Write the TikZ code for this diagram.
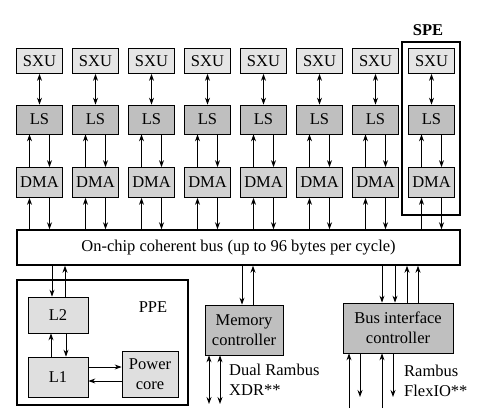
\documentclass[tikz,border=0pt]{standalone}
\usepackage{fontspec}
\setmainfont{Liberation Serif}
\usetikzlibrary{arrows.meta}

\begin{document}
\begin{tikzpicture}[x=1pt, y=-1pt, >={Stealth[length=7pt,width=5pt]},
  font=\fontsize{16.5}{20}\selectfont,
  unit/.style={draw, line width=0.7pt, inner sep=0pt, minimum width=46pt},
  link/.style={line width=0.9pt}]
  \useasboundingbox (0,0) rectangle (487,410);
  % eight SPEs
  \foreach \i in {1,...,8} {
    \pgfmathsetmacro{\cx}{39.5+56*(\i-1)}
    \node[unit, fill=gray!20, minimum height=25pt] (sxu\i) at (\cx,61) {SXU};
    \node[unit, fill=gray!50, minimum height=29pt] (ls\i) at (\cx,119.5) {LS};
    \node[unit, fill=gray!35, minimum height=30pt] (dma\i) at (\cx,182.5) {DMA};
    \draw[link, <->] (sxu\i) -- (ls\i);
    \draw[link, ->] ([xshift=-10pt]dma\i.north) -- ([xshift=-10pt]ls\i.south);
    \draw[link, ->] ([xshift=10pt]ls\i.south) -- ([xshift=10pt]dma\i.north);
  }
  \node[draw, line width=1.5pt, minimum width=58pt, minimum height=173pt]
    (spe) at (431,128.5) {};
  \node[font=\fontsize{16.5}{20}\selectfont\bfseries] (spelbl) at (428,30) {SPE};

  % bus
  \node[draw, line width=1.4pt, minimum width=443pt, minimum height=35pt]
    (bus) at (238.5,247.5) {On-chip coherent bus (up to 96 bytes per cycle)};
  \foreach \i in {1,...,8} {
    \draw[link, ->] ([xshift=-10pt]bus.north -| dma\i) -- ([xshift=-10pt]dma\i.south);
    \draw[link, ->] ([xshift=10pt]dma\i.south) -- ([xshift=10pt]bus.north -| dma\i);
  }

  % PPE
  \node[draw, line width=1.8pt, minimum width=171pt, minimum height=125pt]
    (ppe) at (102.5,342.5) {};
  \node (ppelbl) at (153,307) {PPE};
  \node[unit, fill=gray!25, minimum width=60pt, minimum height=36pt] (l2) at (58,315) {L2};
  \node[unit, fill=gray!25, minimum width=60pt, minimum height=40pt] (l1) at (58,377) {L1};
  \node[unit, fill=gray!25, minimum width=56pt, minimum height=46pt, align=center]
    (core) at (150,374) {Power\\core};
  \draw[link, ->] ([xshift=-6pt]bus.south -| l2) -- ([xshift=-6pt]l2.north);
  \draw[link, ->] ([xshift=7pt]l2.north) -- ([xshift=7pt]bus.south -| l2);
  \draw[link, ->] ([xshift=-7pt]l1.north) -- ([xshift=-7pt]l2.south);
  \draw[link, ->] ([xshift=8pt]l2.south) -- ([xshift=8pt]l1.north);
  \draw[link, ->] ([yshift=10pt]l1.east) -- ([yshift=10pt]l1.east -| core.west);
  \draw[link, ->] ([yshift=-4pt]l1.east -| core.west) -- ([yshift=-4pt]l1.east);

  % memory controller
  \node[unit, fill=gray!50, minimum width=78pt, minimum height=50pt, align=center]
    (mic) at (244,330) {Memory\\controller};
  \draw[link, ->] ([xshift=-2pt]bus.south -| mic) -- ([xshift=-2pt]mic.north);
  \draw[link, ->] ([xshift=9pt]mic.north) -- ([xshift=9pt]bus.south -| mic);
  \coordinate (xdr1) at (209,404);
  \coordinate (xdr2) at (220,404);
  \draw[link, <->] (mic.south -| xdr1) -- (xdr1);
  \draw[link, <->] (mic.south -| xdr2) -- (xdr2);
  \node[anchor=west, align=left, inner sep=0pt] (xdrlbl) at (229,380)
    {Dual Rambus\\XDR**};

  % bus interface controller
  \node[unit, fill=gray!50, minimum width=110pt, minimum height=50pt, align=center]
    (bic) at (398,328) {Bus interface\\controller};
  \draw[link, ->] ([xshift=-16pt]bus.south -| bic) -- ([xshift=-16pt]bic.north);
  \draw[link, ->] ([xshift=-3pt]bus.south -| bic) -- ([xshift=-3pt]bic.north);
  \draw[link, ->] ([xshift=9pt]bic.north) -- ([xshift=9pt]bus.south -| bic);
  \draw[link, ->] ([xshift=20pt]bic.north) -- ([xshift=20pt]bus.south -| bic);
  \coordinate (fio1) at (349,408);
  \coordinate (fio2) at (360,397);
  \coordinate (fio3) at (382,408);
  \coordinate (fio4) at (393,397);
  \draw[link, ->] (fio1) -- (bic.south -| fio1);
  \draw[link, ->] (bic.south -| fio2) -- (fio2);
  \draw[link, ->] (fio3) -- (bic.south -| fio3);
  \draw[link, ->] (bic.south -| fio4) -- (fio4);
  \node[anchor=west, align=left, inner sep=0pt] (fiolbl) at (404,381)
    {Rambus\\FlexIO**};
\end{tikzpicture}
\end{document}
